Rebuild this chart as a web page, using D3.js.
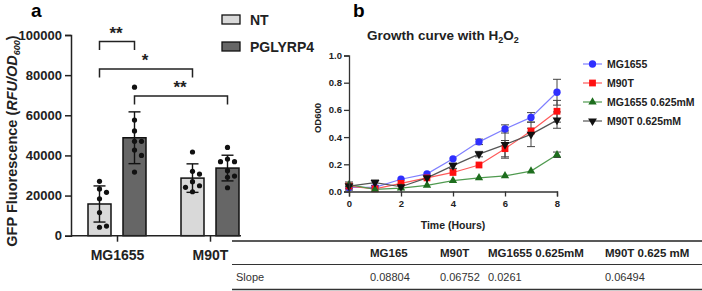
<!DOCTYPE html>
<html>
<head>
<meta charset="utf-8">
<script src="https://cdn.jsdelivr.net/npm/d3@7"></script>
<style>
  body { margin: 0; background: #fff; }
  svg { display: block; font-family: Arial, "Liberation Sans", sans-serif; }
</style>
</head>
<body>
<div id="chart"></div>
<script>
// ---- panel a data ----
var groups = ["MG1655", "M90T"];
var treatments = ["NT", "PGLYRP4"];
var ntMean = [15800, 28700];
var ntSD = [9000, 7100];
var pgMean = [48800, 33700];
var pgSD = [12900, 6400];
var ntDots = [[27100, 23300, 21600, 18400, 11500, 4200, 4800],
              [41700, 32100, 30700, 26900, 24900, 24100, 21900]];
var pgDots = [[74000, 57600, 52200, 47000, 47000, 42700, 40000, 31700],
              [44000, 38200, 36900, 36900, 32400, 29700, 29100, 23900]];
var yTicksA = [0, 20000, 40000, 60000, 80000, 100000];
var sigFrom = [["MG1655", "NT"], ["MG1655", "NT"], ["MG1655", "PGLYRP4"]];
var sigTo = [["MG1655", "PGLYRP4"], ["M90T", "NT"], ["M90T", "PGLYRP4"]];
var sigTop = [96700, 83000, 69600];
var sigLabel = ["**", "*", "**"];

// ---- panel b data ----
var hours = [0, 1, 2, 3, 4, 5, 6, 7, 8];
var strains = ["MG1655", "M90T", "MG1655 0.625mM", "M90T 0.625mM"];
var odMG = [0.03, 0.03, 0.09, 0.13, 0.24, 0.365, 0.46, 0.545, 0.73];
var odM90 = [0.04, 0.02, 0.06, 0.10, 0.14, 0.195, 0.315, 0.445, 0.59];
var odMGh = [0.05, 0.015, 0.025, 0.045, 0.08, 0.10, 0.115, 0.15, 0.27];
var odM90h = [0.04, 0.065, 0.035, 0.10, 0.19, 0.275, 0.345, 0.42, 0.525];
var sdMG = [0.01, 0.01, 0.01, 0.01, 0.01, 0.02, 0.03, 0.035, 0.095];
var sdM90 = [0.02, 0.01, 0.01, 0.01, 0.01, 0.01, 0.06, 0.02, 0.08];
var sdMGh = [0.01, 0.01, 0.01, 0.01, 0.01, 0.01, 0.01, 0.01, 0.02];
var sdM90h = [0.03, 0.02, 0.01, 0.01, 0.02, 0.02, 0.10, 0.09, 0.06];
var yTicksB = [0, 0.2, 0.4, 0.6, 0.8, 1.0];
var xTicksB = [0, 2, 4, 6, 8];

// ---- table ----
var tableHead = ["", "MG165", "M90T", "MG1655 0.625mM", "M90T 0.625 mM"];
var tableRow = ["Slope", "0.08804", "0.06752", "0.0261", "0.06494"];

var W = 702, H = 291;
var svg = d3.select("#chart").append("svg").attr("width", W).attr("height", H);

// ================= panel a =================
var yA = d3.scaleLinear().domain([0, 100000]).range([235.7, 35]);
var xGroup = d3.scalePoint().domain(groups).range([117, 210]);
var xInner = d3.scaleBand().domain(treatments).range([-29, 29]).paddingInner(0.343);
var fillA = { NT: "#d9d9d9", PGLYRP4: "#666666" };

var bars = [];
groups.forEach(function(g, gi) {
  treatments.forEach(function(t, ti) {
    bars.push({
      group: g, treat: t,
      mean: ti === 0 ? ntMean[gi] : pgMean[gi],
      sd: ti === 0 ? ntSD[gi] : pgSD[gi],
      dots: ti === 0 ? ntDots[gi] : pgDots[gi]
    });
  });
});
function cx(g, t) { return xGroup(g) + xInner(t) + xInner.bandwidth() / 2; }

var gA = svg.append("g");

gA.selectAll("rect.bar").data(bars).enter().append("rect")
  .attr("class", "bar")
  .attr("x", function(d) { return xGroup(d.group) + xInner(d.treat); })
  .attr("y", function(d) { return yA(d.mean); })
  .attr("width", xInner.bandwidth())
  .attr("height", function(d) { return yA(0) - yA(d.mean); })
  .style("fill", function(d) { return fillA[d.treat]; })
  .style("stroke", "#111").style("stroke-width", 1.5);

// error bars
var eb = gA.selectAll("g.eb").data(bars).enter().append("g").attr("class", "eb")
  .style("stroke", "#111").style("stroke-width", 1.4);
eb.append("line")
  .attr("x1", function(d) { return cx(d.group, d.treat); })
  .attr("x2", function(d) { return cx(d.group, d.treat); })
  .attr("y1", function(d) { return yA(d.mean - d.sd); })
  .attr("y2", function(d) { return yA(d.mean + d.sd); });
[-1, 1].forEach(function(s) {
  eb.append("line")
    .attr("x1", function(d) { return cx(d.group, d.treat) - 6; })
    .attr("x2", function(d) { return cx(d.group, d.treat) + 6; })
    .attr("y1", function(d) { return yA(d.mean + s * d.sd); })
    .attr("y2", function(d) { return yA(d.mean + s * d.sd); });
});

// dots, nudged sideways when they would overlap
bars.forEach(function(b) {
  var placed = [];
  b.dots.forEach(function(v) {
    var py = yA(v), offs = [0, 7, -7, 14, -14], ox = 0;
    for (var k = 0; k < offs.length; k++) {
      var ok = placed.every(function(p) { return Math.hypot(p[0] - offs[k], p[1] - py) > 6; });
      if (ok) { ox = offs[k]; break; }
    }
    placed.push([ox, py]);
  });
  gA.selectAll(null).data(placed).enter().append("circle")
    .attr("cx", function(p) { return cx(b.group, b.treat) + p[0]; })
    .attr("cy", function(p) { return p[1]; })
    .attr("r", 2.6)
    .style("fill", "#111");
});

// axes
var axA = gA.append("g").attr("transform", "translate(71,0)")
  .call(d3.axisLeft(yA).tickValues(yTicksA).tickSize(6).tickPadding(3).tickFormat(d3.format("d")));
axA.selectAll("text").style("font-size", "13px").style("font-weight", "bold").style("fill", "#222");
axA.selectAll("line, path").style("stroke", "#222").style("stroke-width", 1.5);

var axAx = gA.append("g").attr("transform", "translate(0," + yA(0) + ")")
  .call(d3.axisBottom(xGroup).tickSize(6).tickPadding(8));
axAx.select(".domain").remove();
axAx.append("line").attr("x1", 71).attr("x2", 241).style("stroke", "#222").style("stroke-width", 1.5);
axAx.selectAll("text").style("font-size", "14px").style("font-weight", "bold").style("fill", "#222");
axAx.selectAll("line").style("stroke", "#222").style("stroke-width", 1.5);

// significance brackets
sigLabel.forEach(function(lab, i) {
  var x1 = cx(sigFrom[i][0], sigFrom[i][1]), x2 = cx(sigTo[i][0], sigTo[i][1]);
  var y0 = yA(sigTop[i]), leg = 8.5;
  gA.append("path")
    .attr("d", "M" + x1 + "," + (y0 + leg) + "V" + y0 + "H" + x2 + "V" + (y0 + leg))
    .style("fill", "none").style("stroke", "#222").style("stroke-width", 1.5);
  gA.append("text")
    .attr("x", (x1 + x2) / 2 - 1).attr("y", y0 - 3)
    .attr("text-anchor", "middle")
    .style("font-size", "17px").style("font-weight", "bold").style("fill", "#222")
    .text(lab);
});

// y label
var yl = gA.append("text")
  .attr("transform", "translate(17,141) rotate(-90)")
  .attr("text-anchor", "middle")
  .style("font-size", "14.5px").style("font-weight", "bold").style("fill", "#222");
yl.append("tspan").text("GFP Fluorescence (");
yl.append("tspan").style("font-style", "italic").text("RFU/OD");
yl.append("tspan").style("font-style", "italic").style("font-size", "9px").attr("dy", 3).text("600");
yl.append("tspan").attr("dy", -3).text(")");

// legend a
treatments.forEach(function(t, i) {
  var ly = 15 + i * 27;
  gA.append("rect").attr("x", 222).attr("y", ly).attr("width", 18).attr("height", 9)
    .style("fill", fillA[t]).style("stroke", "#111").style("stroke-width", 1.3);
  gA.append("text").attr("x", 250).attr("y", ly + 10)
    .style("font-size", "14px").style("font-weight", "bold").style("fill", "#222").text(t);
});

svg.append("text").attr("x", 31).attr("y", 17)
  .style("font-size", "19px").style("font-weight", "bold").text("a");
svg.append("text").attr("x", 353).attr("y", 17)
  .style("font-size", "19px").style("font-weight", "bold").text("b");

// ================= panel b =================
var xB = d3.scaleLinear().domain([0, 8]).range([349, 557]);
var yB = d3.scaleLinear().domain([0, 1]).range([191.5, 55.5]);
var gB = svg.append("g");

var series = [
  { name: strains[0], v: odMG, sd: sdMG, mk: "#2f2fff", ln: "#7f7fff", sym: d3.symbolCircle, size: 42, rot: 0 },
  { name: strains[1], v: odM90, sd: sdM90, mk: "#ff1010", ln: "#ff5a5a", sym: d3.symbolSquare, size: 46, rot: 0 },
  { name: strains[2], v: odMGh, sd: sdMGh, mk: "#1e6e1e", ln: "#4f9a4f", sym: d3.symbolTriangle, size: 30, rot: 0 },
  { name: strains[3], v: odM90h, sd: sdM90h, mk: "#111", ln: "#555", sym: d3.symbolTriangle, size: 34, rot: 180 }
];

var line = d3.line().x(function(d, i) { return xB(hours[i]); }).y(function(d) { return yB(d); });

// error bars first
series.forEach(function(s) {
  var ge = gB.append("g").style("stroke", "#444").style("stroke-width", 1);
  s.v.forEach(function(v, i) {
    if (s.sd[i] < 0.012) return;
    var x = xB(hours[i]);
    ge.append("line").attr("x1", x).attr("x2", x).attr("y1", yB(v - s.sd[i])).attr("y2", yB(v + s.sd[i]));
    ge.append("line").attr("x1", x - 4).attr("x2", x + 4).attr("y1", yB(v - s.sd[i])).attr("y2", yB(v - s.sd[i]));
    ge.append("line").attr("x1", x - 4).attr("x2", x + 4).attr("y1", yB(v + s.sd[i])).attr("y2", yB(v + s.sd[i]));
  });
});
series.forEach(function(s) {
  gB.append("path").datum(s.v).attr("d", line)
    .style("fill", "none").style("stroke", s.ln).style("stroke-width", 1.2);
});
series.forEach(function(s) {
  gB.selectAll(null).data(s.v).enter().append("path")
    .attr("d", d3.symbol().type(s.sym).size(s.size))
    .attr("transform", function(d, i) { return "translate(" + xB(hours[i]) + "," + yB(d) + ") rotate(" + s.rot + ")"; })
    .style("fill", s.mk);
});

var axBy = gB.append("g").attr("transform", "translate(349,0)")
  .call(d3.axisLeft(yB).tickValues(yTicksB).tickSize(5).tickPadding(2).tickFormat(d3.format(".1f")));
var axBx = gB.append("g").attr("transform", "translate(0,191.5)")
  .call(d3.axisBottom(xB).tickValues(xTicksB).tickSize(5).tickPadding(4).tickFormat(d3.format("d")));
[axBy, axBx].forEach(function(a) {
  a.selectAll("text").style("font-size", "9.5px").style("font-weight", "bold").style("fill", "#222");
  a.selectAll("line, path").style("stroke", "#333").style("stroke-width", 1.3);
});

gB.append("text").attr("transform", "translate(321,118) rotate(-90)")
  .attr("text-anchor", "middle")
  .style("font-size", "9.5px").style("font-weight", "bold").style("fill", "#222").text("OD600");
gB.append("text").attr("x", 453).attr("y", 229).attr("text-anchor", "middle")
  .style("font-size", "10.5px").style("font-weight", "bold").style("fill", "#222").text("Time (Hours)");

var title = gB.append("text").attr("x", 367).attr("y", 40)
  .style("font-size", "13.5px").style("font-weight", "bold").style("fill", "#222");
title.append("tspan").text("Growth curve with H");
title.append("tspan").attr("dy", 3).style("font-size", "9px").text("2");
title.append("tspan").attr("dy", -3).text("O");
title.append("tspan").attr("dy", 3).style("font-size", "9px").text("2");

// legend b
series.forEach(function(s, i) {
  var ly = 64 + i * 19;
  gB.append("line").attr("x1", 583).attr("x2", 602).attr("y1", ly).attr("y2", ly)
    .style("stroke", s.ln).style("stroke-width", 1.2);
  gB.append("path").attr("d", d3.symbol().type(s.sym).size(s.size))
    .attr("transform", "translate(592.5," + ly + ") rotate(" + s.rot + ")").style("fill", s.mk);
  gB.append("text").attr("x", 607).attr("y", ly + 4)
    .style("font-size", "10.5px").style("font-weight", "bold").style("fill", "#222").text(s.name);
});

// ================= table =================
var colX = [236, 370, 440, 488, 605];
var gT = svg.append("g");
gT.append("line").attr("x1", 232).attr("x2", 702).attr("y1", 241).attr("y2", 241)
  .style("stroke", "#222").style("stroke-width", 1.6);
gT.append("line").attr("x1", 232).attr("x2", 702).attr("y1", 264.5).attr("y2", 264.5)
  .style("stroke", "#333").style("stroke-width", 1);
gT.append("line").attr("x1", 232).attr("x2", 702).attr("y1", 289.5).attr("y2", 289.5)
  .style("stroke", "#333").style("stroke-width", 1.3);
gT.selectAll("text.h").data(tableHead).enter().append("text").attr("class", "h")
  .attr("x", function(d, i) { return colX[i]; }).attr("y", 257)
  .style("font-size", "11.5px").style("font-weight", "bold").style("fill", "#222")
  .text(function(d) { return d; });
gT.selectAll("text.r").data(tableRow).enter().append("text").attr("class", "r")
  .attr("x", function(d, i) { return colX[i]; }).attr("y", 281)
  .style("font-size", "11px").style("fill", "#333")
  .text(function(d) { return d; });
</script>
</body>
</html>
